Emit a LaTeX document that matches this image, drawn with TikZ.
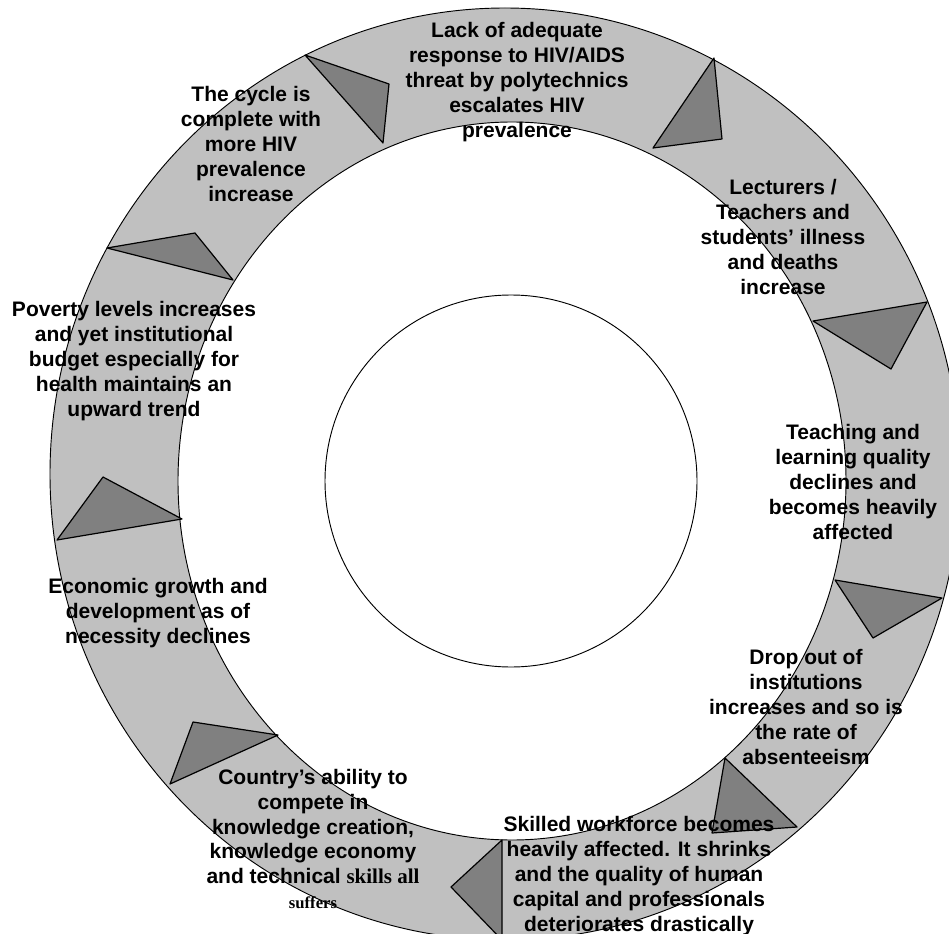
\documentclass[tikz,border=0pt]{standalone}
\usepackage{fontspec}
\setmainfont{Liberation Sans}
\newfontfamily\timesfont{Liberation Serif}
\definecolor{ringgray}{HTML}{C0C0C0}
\definecolor{arrowgray}{HTML}{808080}
\tikzset{
  arrowtri/.style={fill=arrowgray,draw=black,line width=0.9pt,line join=round},
  lbl/.style={align=center,inner sep=0pt,font=\bfseries\fontsize{15.75}{18.6}\selectfont}
}
\begin{document}
\begin{tikzpicture}[x=0.75pt,y=-0.75pt]

\clip (0,0) rectangle (949,934);

% ring and centre circle
\fill[ringgray,even odd rule] (505,474) ellipse [x radius=455,y radius=466]
  (512,481) ellipse [x radius=334,y radius=359];
\draw[line width=0.7pt] (505,474) ellipse [x radius=455,y radius=466];
\draw[line width=0.7pt] (512,481) ellipse [x radius=334,y radius=359];
\draw[line width=0.7pt] (511,481) circle [radius=186];

% arrow heads: outer point, apex, inner point
\coordinate (o1) at (305,55);  \coordinate (t1) at (389,84);  \coordinate (i1) at (383,143);
\coordinate (o2) at (714,58);  \coordinate (t2) at (722,139); \coordinate (i2) at (653,148);
\coordinate (o3) at (927,302); \coordinate (t3) at (891,369); \coordinate (i3) at (813,321);
\coordinate (o4) at (942,598); \coordinate (t4) at (873,638); \coordinate (i4) at (835,580);
\coordinate (o5) at (797,827); \coordinate (t5) at (712,833); \coordinate (i5) at (725,758);
\coordinate (o6) at (502,940); \coordinate (t6) at (451,887); \coordinate (i6) at (502,840);
\coordinate (o7) at (170,784); \coordinate (t7) at (193,722); \coordinate (i7) at (278,735);
\coordinate (o8) at (57,540);  \coordinate (t8) at (103,477); \coordinate (i8) at (182,519);
\coordinate (o9) at (107,248); \coordinate (t9) at (195,233); \coordinate (i9) at (233,280);

\foreach \k in {1,...,9}
  \draw[arrowtri] (o\k)--(t\k)--(i\k)--cycle;

% texts
\node[lbl] (lack) at (517,82) {Lack of adequate\\response to HIV/AIDS\\threat by polytechnics\\escalates HIV\\prevalence};
\node[lbl] (lecturers) at (783,237) {Lecturers /\\Teachers and\\students’ illness\\and deaths\\increase};
\node[lbl] (teaching) at (853,482) {Teaching and\\learning quality\\declines and\\becomes heavily\\affected};
\node[lbl] (dropout) at (806,707) {Drop out of\\institutions\\increases and so is\\the rate of\\absenteeism};
\node[lbl] (skilled) at (639,876) {Skilled workforce becomes\\heavily affected. It shrinks\\and the quality of human\\capital and professionals\\deteriorates drastically};
\node[lbl] (country) at (313,839) {Country’s ability to\\compete in\\knowledge creation,\\knowledge economy\\and technical {\timesfont skills all}\\{\timesfont\fontsize{12.5}{14}\selectfont suffers}};
\node[lbl] (economic) at (158,613) {Economic growth and\\development as of\\necessity declines};
\node[lbl] (poverty) at (134,361) {Poverty levels increases\\and yet institutional\\budget especially for\\health maintains an\\upward trend};
\node[lbl] (cycle) at (251,144) {The cycle is\\complete with\\more HIV\\prevalence\\increase};

\end{tikzpicture}
\end{document}
